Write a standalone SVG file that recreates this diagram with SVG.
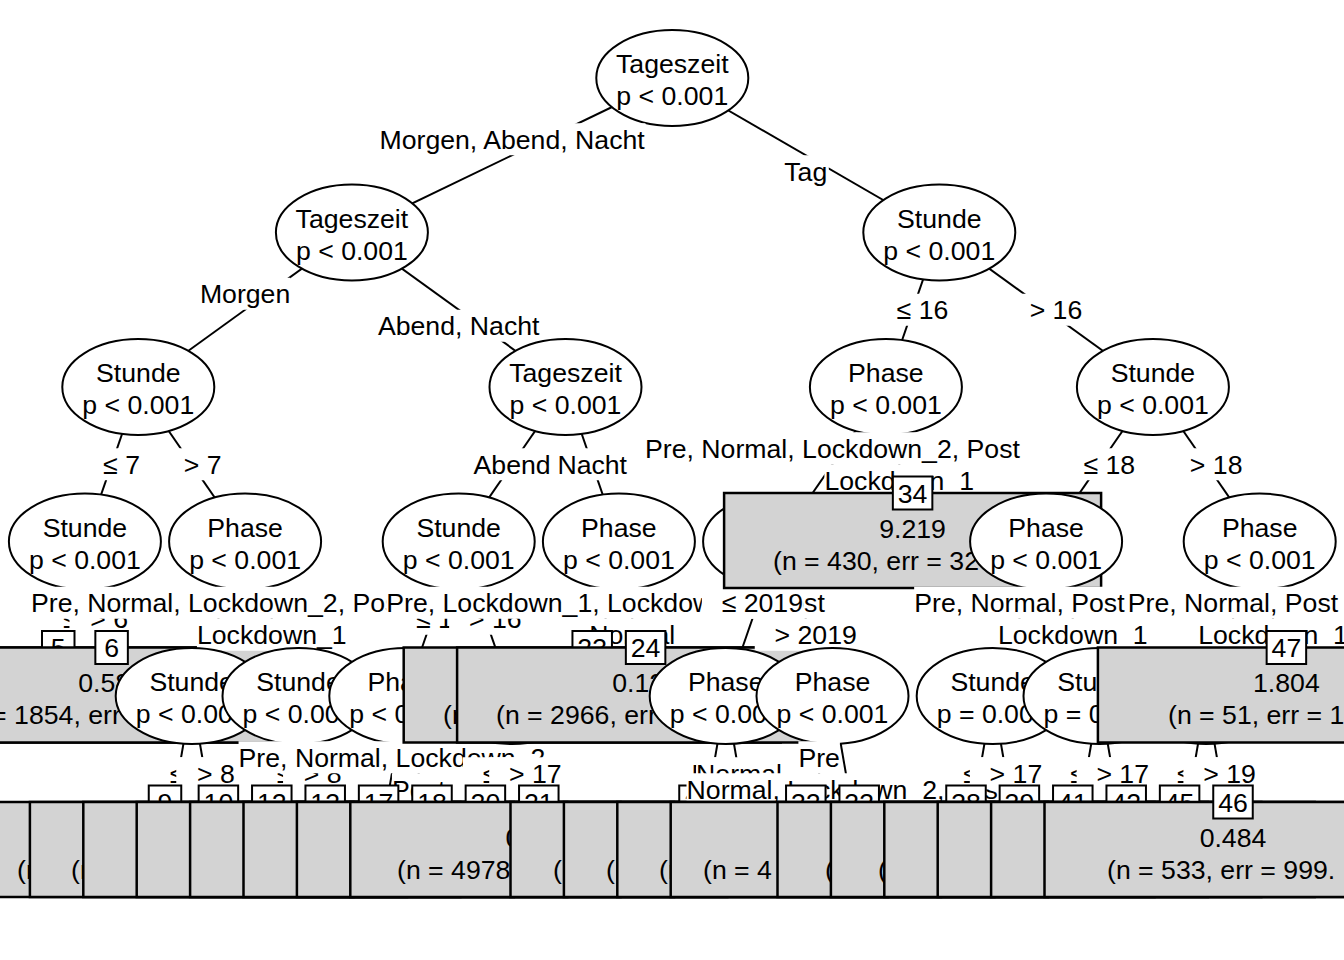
<svg xmlns="http://www.w3.org/2000/svg" width="1344" height="960" viewBox="0 0 1344 960">
<style>
text{font-family:"Liberation Sans",Arial,sans-serif;font-size:26.67px;fill:#000}
.m{text-anchor:middle}
.e{fill:#fff;stroke:#000;stroke-width:2}
.b{fill:#d3d3d3;stroke:#000;stroke-width:2.5}
.i{fill:#fff;stroke:#000;stroke-width:2}
.c line{stroke:#000;stroke-width:2}
.w{fill:#fff}
</style>
<rect width="1344" height="960" fill="#fff"/>
<g id="connectors" class="c">
<line x1="672.3" y1="78" x2="351.9" y2="232.5"/><line x1="672.3" y1="78" x2="939.3" y2="232.5"/>
<line x1="351.9" y1="232.5" x2="138.3" y2="387"/><line x1="351.9" y1="232.5" x2="565.5" y2="387"/>
<line x1="138.3" y1="387" x2="84.9" y2="541.5"/><line x1="138.3" y1="387" x2="245.1" y2="541.5"/>
<line x1="84.9" y1="541.5" x2="58.2" y2="696"/><line x1="84.9" y1="541.5" x2="111.6" y2="696"/>
<line x1="245.1" y1="541.5" x2="191.7" y2="696"/><line x1="245.1" y1="541.5" x2="298.5" y2="696"/>
<line x1="191.7" y1="696" x2="165" y2="850.5"/><line x1="191.7" y1="696" x2="218.4" y2="850.5"/>
<line x1="298.5" y1="696" x2="271.8" y2="850.5"/><line x1="298.5" y1="696" x2="325.2" y2="850.5"/>
<line x1="565.5" y1="387" x2="458.7" y2="541.5"/><line x1="565.5" y1="387" x2="618.9" y2="541.5"/>
<line x1="458.7" y1="541.5" x2="405.3" y2="696"/><line x1="458.7" y1="541.5" x2="512.1" y2="696"/>
<line x1="405.3" y1="696" x2="378.6" y2="850.5"/><line x1="405.3" y1="696" x2="432" y2="850.5"/>
<line x1="512.1" y1="696" x2="485.4" y2="850.5"/><line x1="512.1" y1="696" x2="538.8" y2="850.5"/>
<line x1="618.9" y1="541.5" x2="592.2" y2="696"/><line x1="618.9" y1="541.5" x2="645.6" y2="696"/>
<line x1="939.3" y1="232.5" x2="885.9" y2="387"/><line x1="939.3" y1="232.5" x2="1152.9" y2="387"/>
<line x1="885.9" y1="387" x2="779.1" y2="541.5"/><line x1="885.9" y1="387" x2="912.6" y2="541.5"/>
<line x1="779.1" y1="541.5" x2="725.7" y2="696"/><line x1="779.1" y1="541.5" x2="832.5" y2="696"/>
<line x1="725.7" y1="696" x2="699" y2="850.5"/><line x1="725.7" y1="696" x2="752.4" y2="850.5"/>
<line x1="832.5" y1="696" x2="805.8" y2="850.5"/><line x1="832.5" y1="696" x2="859.2" y2="850.5"/>
<line x1="1152.9" y1="387" x2="1046.1" y2="541.5"/><line x1="1152.9" y1="387" x2="1259.7" y2="541.5"/>
<line x1="1046.1" y1="541.5" x2="992.7" y2="696"/><line x1="1046.1" y1="541.5" x2="1099.5" y2="696"/>
<line x1="992.7" y1="696" x2="966" y2="850.5"/><line x1="992.7" y1="696" x2="1019.4" y2="850.5"/>
<line x1="1099.5" y1="696" x2="1072.8" y2="850.5"/><line x1="1099.5" y1="696" x2="1126.2" y2="850.5"/>
<line x1="1259.7" y1="541.5" x2="1206.3" y2="696"/><line x1="1259.7" y1="541.5" x2="1286.4" y2="696"/>
<line x1="1206.3" y1="696" x2="1179.6" y2="850.5"/><line x1="1206.3" y1="696" x2="1233" y2="850.5"/>
</g>

<g id="node1"><ellipse class="e" cx="672.3" cy="78" rx="76" ry="48"/><text class="m" x="672.3" y="73">Tageszeit</text><text class="m" x="672.3" y="105">p &lt; 0.001</text></g>
<g id="labels1"><rect class="w" x="378.7" y="123.25" width="266.8" height="32"/><text class="m" x="512.1" y="148.75">Morgen, Abend, Nacht</text><rect class="w" x="782.8" y="155.25" width="46" height="32"/><text class="m" x="805.8" y="180.75">Tag</text></g>

<g id="node2"><ellipse class="e" cx="351.9" cy="232.5" rx="76" ry="48"/><text class="m" x="351.9" y="227.5">Tageszeit</text><text class="m" x="351.9" y="259.5">p &lt; 0.001</text></g>
<g id="labels2"><rect class="w" x="199.9" y="277.75" width="90.4" height="32"/><text class="m" x="245.1" y="303.25">Morgen</text><rect class="w" x="377.9" y="309.75" width="161.6" height="32"/><text class="m" x="458.7" y="335.25">Abend, Nacht</text></g>

<g id="node3"><ellipse class="e" cx="138.3" cy="387" rx="76" ry="48"/><text class="m" x="138.3" y="382">Stunde</text><text class="m" x="138.3" y="414">p &lt; 0.001</text></g>
<g id="labels3"><rect class="w" x="83.3" y="448.25" width="56.6" height="32"/><text x="103.1" y="473.75">&#8804; 7</text><rect class="w" x="162.9" y="448.25" width="57.6" height="32"/><text x="183.7" y="473.75">&gt; 7</text></g>

<g id="node4"><ellipse class="e" cx="84.9" cy="541.5" rx="76" ry="48"/><text class="m" x="84.9" y="536.5">Stunde</text><text class="m" x="84.9" y="568.5">p &lt; 0.001</text></g>
<g id="labels4"><rect class="w" x="43.25" y="602.75" width="56.6" height="32"/><text x="63.05" y="628.25">&#8804; 6</text><rect class="w" x="69.45" y="602.75" width="57.6" height="32"/><text x="90.25" y="628.25">&gt; 6</text></g>

<g id="node5"><rect class="b" x="-130.3" y="647.5" width="377" height="95"/><rect class="i" x="42" y="631" width="32.5" height="33"/><text class="m" x="58.2" y="657">5</text></g>
<g id="node6"><rect class="b" x="-76.9" y="647.5" width="377" height="95"/><text x="78.25" y="692">0.58</text><text x="-40" y="724">(n = 1854, err</text><rect class="i" x="95.35" y="631" width="32.5" height="33"/><text class="m" x="111.6" y="657">6</text></g>

<g id="node7"><ellipse class="e" cx="245.1" cy="541.5" rx="76" ry="48"/><text class="m" x="245.1" y="536.5">Phase</text><text class="m" x="245.1" y="568.5">p &lt; 0.001</text></g>
<g id="labels7"><rect class="w" x="30.9" y="586.75" width="375" height="32"/><text class="m" x="218.4" y="612.25">Pre, Normal, Lockdown_2, Post</text><rect class="w" x="196.95" y="618.75" width="149.7" height="32"/><text class="m" x="271.8" y="644.25">Lockdown_1</text></g>

<g id="node8"><ellipse class="e" cx="191.7" cy="696" rx="76" ry="48"/><text class="m" x="191.7" y="691">Stunde</text><text class="m" x="191.7" y="723">p &lt; 0.001</text></g>
<g id="labels8"><rect class="w" x="150.05" y="757.25" width="56.6" height="32"/><text x="169.85" y="782.75">&#8804; 8</text><rect class="w" x="176.25" y="757.25" width="57.6" height="32"/><text x="197.05" y="782.75">&gt; 8</text></g>
<g id="node9"><rect class="b" x="-23.5" y="802" width="377" height="95"/><text x="17" y="878.5">(n</text><rect class="i" x="148.75" y="785.5" width="32.5" height="33"/><text class="m" x="165" y="811.5">9</text></g>
<g id="node10"><rect class="b" x="29.9" y="802" width="377" height="95"/><text x="71" y="878.5">(n</text><rect class="i" x="198.65" y="785.5" width="39.5" height="33"/><text class="m" x="218.4" y="811.5">10</text></g>

<g id="node11"><ellipse class="e" cx="298.5" cy="696" rx="76" ry="48"/><text class="m" x="298.5" y="691">Stunde</text><text class="m" x="298.5" y="723">p &lt; 0.001</text></g>
<g id="labels11"><rect class="w" x="256.85" y="757.25" width="56.6" height="32"/><text x="276.65" y="782.75">&#8804; 8</text><rect class="w" x="283.05" y="757.25" width="57.6" height="32"/><text x="303.85" y="782.75">&gt; 8</text></g>
<g id="node12"><rect class="b" x="83.3" y="802" width="377" height="95"/><rect class="i" x="252.05" y="785.5" width="39.5" height="33"/><text class="m" x="271.8" y="811.5">12</text></g>
<g id="node13"><rect class="b" x="136.7" y="802" width="377" height="95"/><rect class="i" x="305.45" y="785.5" width="39.5" height="33"/><text class="m" x="325.2" y="811.5">13</text></g>

<g id="node14"><ellipse class="e" cx="565.5" cy="387" rx="76" ry="48"/><text class="m" x="565.5" y="382">Tageszeit</text><text class="m" x="565.5" y="414">p &lt; 0.001</text></g>
<g id="labels14"><rect class="w" x="473.55" y="448.25" width="77.1" height="32"/><text class="m" x="512.1" y="473.75">Abend</text><rect class="w" x="557.35" y="448.25" width="69.7" height="32"/><text class="m" x="592.2" y="473.75">Nacht</text></g>

<g id="node15"><ellipse class="e" cx="458.7" cy="541.5" rx="76" ry="48"/><text class="m" x="458.7" y="536.5">Stunde</text><text class="m" x="458.7" y="568.5">p &lt; 0.001</text></g>
<g id="labels15"><rect class="w" x="396.25" y="602.75" width="71.5" height="32"/><text x="416" y="628.25">&#8804; 16</text><rect class="w" x="449.15" y="602.75" width="72.5" height="32"/><text x="468.95" y="628.25">&gt; 16</text></g>

<g id="node16"><ellipse class="e" cx="405.3" cy="696" rx="76" ry="48"/><text class="m" x="405.3" y="691">Phase</text><text class="m" x="405.3" y="723">p &lt; 0.001</text></g>
<g id="labels16"><rect class="w" x="238.55" y="741.25" width="306.8" height="32"/><text class="m" x="391.95" y="766.75">Pre, Normal, Lockdown_2</text><rect class="w" x="391.95" y="773.25" width="53.4" height="32"/><text class="m" x="418.65" y="798.75">Post</text></g>
<g id="node17"><rect class="b" x="190.1" y="802" width="377" height="95"/><rect class="i" x="358.85" y="785.5" width="39.5" height="33"/><text class="m" x="378.6" y="811.5">17</text></g>
<g id="node18"><rect class="b" x="243.5" y="802" width="377" height="95"/><rect class="i" x="412.25" y="785.5" width="39.5" height="33"/><text class="m" x="432" y="811.5">18</text></g>

<g id="node19"><ellipse class="e" cx="512.1" cy="696" rx="76" ry="48"/></g>
<g id="labels19"><rect class="w" x="463" y="757.25" width="71.5" height="32"/><text x="482.75" y="782.75">&#8804; 17</text><rect class="w" x="489.2" y="757.25" width="72.5" height="32"/><text x="509" y="782.75">&gt; 17</text></g>
<g id="node20"><rect class="b" x="296.9" y="802" width="377" height="95"/><rect class="i" x="465.65" y="785.5" width="39.5" height="33"/><text class="m" x="485.4" y="811.5">20</text></g>
<g id="node21"><rect class="b" x="350.3" y="802" width="377" height="95"/><text x="505.4" y="846.5">0</text><text x="397" y="878.5">(n = 4978</text><rect class="i" x="519.05" y="785.5" width="39.5" height="33"/><text class="m" x="538.8" y="811.5">21</text></g>

<g id="node22"><ellipse class="e" cx="618.9" cy="541.5" rx="76" ry="48"/><text class="m" x="618.9" y="536.5">Phase</text><text class="m" x="618.9" y="568.5">p &lt; 0.001</text></g>
<g id="labels22"><rect class="w" x="386.15" y="586.75" width="438.8" height="32"/><text class="m" x="605.55" y="612.25">Pre, Lockdown_1, Lockdown_2, Post</text><rect class="w" x="589.3" y="618.75" width="85.9" height="32"/><text class="m" x="632.25" y="644.25">Normal</text></g>
<g id="node23"><rect class="b" x="403.7" y="647.5" width="377" height="95"/><text x="443" y="724">(n</text><rect class="i" x="572.45" y="631" width="39.5" height="33"/><text class="m" x="592.2" y="657">23</text></g>
<g id="node24"><rect class="b" x="457.1" y="647.5" width="377" height="95"/><text x="612.25" y="692">0.12</text><text x="496" y="724">(n = 2966, err</text><rect class="i" x="625.85" y="631" width="39.5" height="33"/><text class="m" x="645.6" y="657">24</text></g>

<g id="node25"><ellipse class="e" cx="939.3" cy="232.5" rx="76" ry="48"/><text class="m" x="939.3" y="227.5">Stunde</text><text class="m" x="939.3" y="259.5">p &lt; 0.001</text></g>
<g id="labels25"><rect class="w" x="876.85" y="293.75" width="71.5" height="32"/><text x="896.6" y="319.25">&#8804; 16</text><rect class="w" x="1009.85" y="293.75" width="72.5" height="32"/><text x="1029.65" y="319.25">&gt; 16</text></g>

<g id="node26"><ellipse class="e" cx="885.9" cy="387" rx="76" ry="48"/><text class="m" x="885.9" y="382">Phase</text><text class="m" x="885.9" y="414">p &lt; 0.001</text></g>
<g id="labels26"><rect class="w" x="645" y="432.25" width="375" height="32"/><text class="m" x="832.5" y="457.75">Pre, Normal, Lockdown_2, Post</text><rect class="w" x="824.4" y="464.25" width="149.7" height="32"/><text class="m" x="899.25" y="489.75">Lockdown_1</text></g>

<g id="node27"><ellipse class="e" cx="779.1" cy="541.5" rx="76" ry="48"/></g>
<g id="labels27"><rect class="w" x="701.85" y="586.75" width="101.1" height="32"/><text x="721.65" y="612.25">&#8804; 2019</text><rect class="w" x="754.75" y="618.75" width="102.1" height="32"/><text x="774.55" y="644.25">&gt; 2019</text></g>

<g id="node28"><ellipse class="e" cx="725.7" cy="696" rx="76" ry="48"/><text class="m" x="725.7" y="691">Phase</text><text class="m" x="725.7" y="723">p &lt; 0.001</text></g>
<g id="labels28"><rect class="w" x="691.6" y="757.25" width="41.5" height="32"/><text class="m" x="712.35" y="782.75">Pre</text><rect class="w" x="696.1" y="757.25" width="85.9" height="32"/><text class="m" x="739.05" y="782.75">Normal</text></g>
<g id="node29"><rect class="b" x="510.5" y="802" width="377" height="95"/><text x="553" y="878.5">(n</text><rect class="i" x="679.25" y="785.5" width="39.5" height="33"/><text class="m" x="699" y="811.5">29</text></g>
<g id="node30"><rect class="b" x="563.9" y="802" width="377" height="95"/><text x="606" y="878.5">(n</text><rect class="i" x="732.65" y="785.5" width="39.5" height="33"/><text class="m" x="752.4" y="811.5">30</text></g>

<g id="node31"><ellipse class="e" cx="832.5" cy="696" rx="76" ry="48"/><text class="m" x="832.5" y="691">Phase</text><text class="m" x="832.5" y="723">p &lt; 0.001</text></g>
<g id="labels31"><rect class="w" x="798.4" y="741.25" width="41.5" height="32"/><text class="m" x="819.15" y="766.75">Pre</text><rect class="w" x="686.5" y="773.25" width="318.7" height="32"/><text class="m" x="845.85" y="798.75">Normal, Lockdown_2, Post</text></g>
<g id="node32"><rect class="b" x="617.3" y="802" width="377" height="95"/><text x="659" y="878.5">(n</text><rect class="i" x="786.05" y="785.5" width="39.5" height="33"/><text class="m" x="805.8" y="811.5">32</text></g>
<g id="node33"><rect class="b" x="670.7" y="802" width="377" height="95"/><text x="703" y="878.5">(n = 4</text><rect class="i" x="839.45" y="785.5" width="39.5" height="33"/><text class="m" x="859.2" y="811.5">33</text></g>

<g id="node34"><rect class="b" x="724.1" y="493" width="377" height="95"/><text class="m" x="912.6" y="537.5">9.219</text><text x="773" y="569.5">(n = 430, err = 32</text><rect class="i" x="892.85" y="476.5" width="39.5" height="33"/><text class="m" x="912.6" y="502.5">34</text></g>

<g id="node35"><ellipse class="e" cx="1152.9" cy="387" rx="76" ry="48"/><text class="m" x="1152.9" y="382">Stunde</text><text class="m" x="1152.9" y="414">p &lt; 0.001</text></g>
<g id="labels35"><rect class="w" x="1063.75" y="448.25" width="71.5" height="32"/><text x="1083.5" y="473.75">&#8804; 18</text><rect class="w" x="1170.05" y="448.25" width="72.5" height="32"/><text x="1189.85" y="473.75">&gt; 18</text></g>

<g id="node36"><ellipse class="e" cx="1046.1" cy="541.5" rx="76" ry="48"/><text class="m" x="1046.1" y="536.5">Phase</text><text class="m" x="1046.1" y="568.5">p &lt; 0.001</text></g>
<g id="labels36"><rect class="w" x="914.15" y="586.75" width="210.5" height="32"/><text class="m" x="1019.4" y="612.25">Pre, Normal, Post</text><rect class="w" x="997.95" y="618.75" width="149.7" height="32"/><text class="m" x="1072.8" y="644.25">Lockdown_1</text></g>

<g id="node37"><ellipse class="e" cx="992.7" cy="696" rx="76" ry="48"/><text class="m" x="992.7" y="691">Stunde</text><text x="936.7" y="723">p = 0.00</text></g>
<g id="labels37"><rect class="w" x="943.6" y="757.25" width="71.5" height="32"/><text x="963.35" y="782.75">&#8804; 17</text><rect class="w" x="969.8" y="757.25" width="72.5" height="32"/><text x="989.6" y="782.75">&gt; 17</text></g>
<g id="node38"><rect class="b" x="777.5" y="802" width="377" height="95"/><text x="825" y="878.5">(n</text><rect class="i" x="946.25" y="785.5" width="39.5" height="33"/><text class="m" x="966" y="811.5">38</text></g>
<g id="node39"><rect class="b" x="830.9" y="802" width="377" height="95"/><text x="878" y="878.5">(n</text><rect class="i" x="999.65" y="785.5" width="39.5" height="33"/><text class="m" x="1019.4" y="811.5">39</text></g>

<g id="node40"><ellipse class="e" cx="1099.5" cy="696" rx="76" ry="48"/><text class="m" x="1099.5" y="691">Stunde</text><text x="1043.5" y="723">p = 0.0</text></g>
<g id="labels40"><rect class="w" x="1050.4" y="757.25" width="71.5" height="32"/><text x="1070.15" y="782.75">&#8804; 17</text><rect class="w" x="1076.6" y="757.25" width="72.5" height="32"/><text x="1096.4" y="782.75">&gt; 17</text></g>
<g id="node41"><rect class="b" x="884.3" y="802" width="377" height="95"/><rect class="i" x="1053.05" y="785.5" width="39.5" height="33"/><text class="m" x="1072.8" y="811.5">41</text></g>
<g id="node42"><rect class="b" x="937.7" y="802" width="377" height="95"/><rect class="i" x="1106.45" y="785.5" width="39.5" height="33"/><text class="m" x="1126.2" y="811.5">42</text></g>

<g id="node43"><ellipse class="e" cx="1259.7" cy="541.5" rx="76" ry="48"/><text class="m" x="1259.7" y="536.5">Phase</text><text class="m" x="1259.7" y="568.5">p &lt; 0.001</text></g>
<g id="labels43"><rect class="w" x="1127.75" y="586.75" width="210.5" height="32"/><text class="m" x="1233" y="612.25">Pre, Normal, Post</text><rect class="w" x="1198.2" y="618.75" width="149.7" height="32"/><text class="m" x="1273.05" y="644.25">Lockdown_1</text></g>

<g id="node44"><ellipse class="e" cx="1206.3" cy="696" rx="76" ry="48"/></g>
<g id="labels44"><rect class="w" x="1157.2" y="757.25" width="71.5" height="32"/><text x="1176.95" y="782.75">&#8804; 19</text><rect class="w" x="1183.4" y="757.25" width="72.5" height="32"/><text x="1203.2" y="782.75">&gt; 19</text></g>
<g id="node45"><rect class="b" x="991.1" y="802" width="377" height="95"/><rect class="i" x="1159.85" y="785.5" width="39.5" height="33"/><text class="m" x="1179.6" y="811.5">45</text></g>
<g id="node46"><rect class="b" x="1044.5" y="802" width="377" height="95"/><text class="m" x="1233" y="846.5">0.484</text><text x="1107" y="878.5">(n = 533, err = 999.</text><rect class="i" x="1213.25" y="785.5" width="39.5" height="33"/><text class="m" x="1233" y="811.5">46</text></g>

<g id="node47"><rect class="b" x="1097.9" y="647.5" width="377" height="95"/><text class="m" x="1286.4" y="692">1.804</text><text x="1168" y="724">(n = 51, err = 1</text><rect class="i" x="1266.65" y="631" width="39.5" height="33"/><text class="m" x="1286.4" y="657">47</text></g>
</svg>
